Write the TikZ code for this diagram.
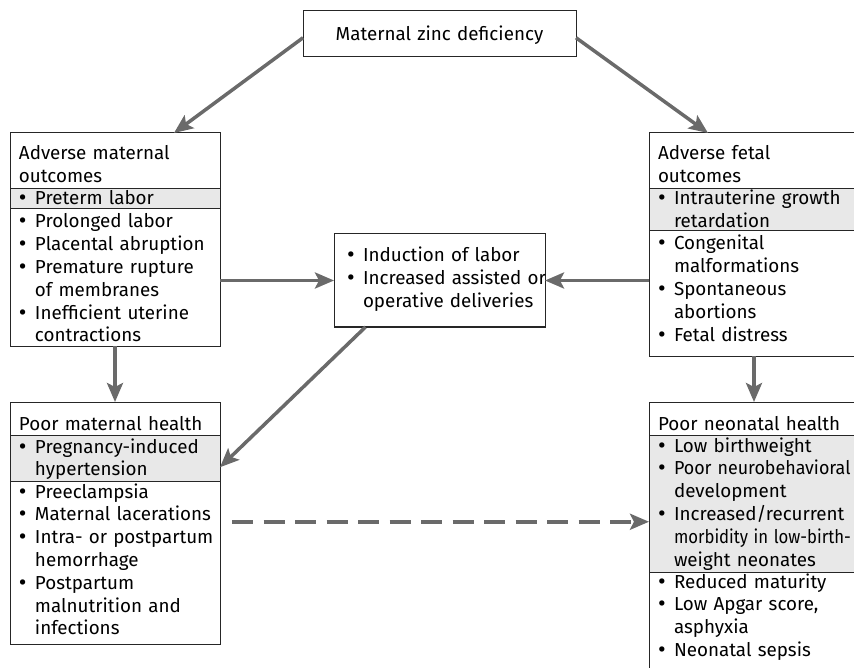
\documentclass[tikz,border=0pt]{standalone}
\usepackage{fontspec}
\setmainfont{Fira Sans}
\usetikzlibrary{positioning,arrows.meta}
\definecolor{arrgray}{HTML}{6A6A6A}
\definecolor{bandgray}{HTML}{E8E8E8}
\newcommand{\bu}[1]{\mbox{\makebox[16pt][l]{\raisebox{-1pt}{\scalebox{1.25}{\textbullet}}}#1}}
\newcommand{\cn}[1]{\mbox{\hspace*{16pt}#1}}
\tikzset{
	box/.style={draw=black!85, line width=1pt, inner xsep=9pt, inner ysep=0pt, outer sep=0pt,
		text width=192pt, align=left, anchor=north west, font=\fontsize{18.8pt}{22.8pt}\selectfont},
	band/.style={box, fill=bandgray},
	sec/.style 2 args={text height=#1pt, text depth=#2pt},
	arr/.style={draw=arrgray, line width=3.5pt, -{Stealth[length=19pt,width=16pt,inset=4pt]}}
}
\begin{document}
\begin{tikzpicture}[x=1pt,y=-1pt]
\useasboundingbox (0,0) rectangle (854,668);
\clip (0,0) rectangle (854,668);
	\node[box, align=center, text width=255pt, sec={30}{15.5}] (zinc) at (303,11) {Maternal zinc deficiency};

	\node[box, sec={27}{28.5}] (moh) at (10,133) {Adverse~maternal\\outcomes};
	\node[band, sec={16.5}{4}, below=0pt of moh.south west, anchor=north west] (mob) {\bu{Preterm labor}};
	\node[box, sec={19}{118}, below=0pt of mob.south west, anchor=north west] (mol) {\bu{Prolonged labor}\\\bu{Placental abruption}\\\bu{Premature rupture}\\\cn{of membranes}\\\bu{Inefficient uterine}\\\cn{contractions}};

	\node[box, sec={27}{28.5}] (foh) at (649,133) {Adverse~fetal\\outcomes};
	\node[band, sec={16.5}{26}, below=0pt of foh.south west, anchor=north west] (fob) {\bu{Intrauterine growth}\\\cn{retardation}};
	\node[box, sec={19}{106}, below=0pt of fob.south west, anchor=north west] (fol) {\bu{Congenital}\\\cn{malformations}\\\bu{Spontaneous}\\\cn{abortions}\\\bu{Fetal distress}};

	\node[box, inner xsep=13pt, text width=185pt, sec={27.7}{65.3}] (ind) at (334,234) {\bu{Induction of labor}\\\bu{Increased assisted or}\\\cn{operative deliveries}};

	\node[box, sec={28.5}{5}] (mhh) at (10,402) {Poor~maternal~health};
	\node[band, sec={17.5}{28}, below=0pt of mhh.south west, anchor=north west] (mhb) {\bu{Pregnancy-induced}\\\cn{hypertension}};
	\node[box, sec={17}{146}, below=0pt of mhb.south west, anchor=north west] (mhl) {\bu{Preeclampsia}\\\bu{Maternal lacerations}\\\bu{Intra- or postpartum}\\\cn{hemorrhage}\\\bu{Postpartum}\\\cn{malnutrition and}\\\cn{infections}};

	\node[box, sec={28.5}{5}] (nhh) at (649,402) {Poor~neonatal~health};
	\node[band, sec={16.5}{120}, below=0pt of nhh.south west, anchor=north west] (nhb) {\bu{Low birthweight}\\\bu{\scalebox{0.95}[1]{Poor neurobehavioral}}\\\cn{development}\\\bu{Increased/recurrent}\\\cn{\scalebox{0.89}[1]{morbidity in low-birth-}}\\\cn{weight neonates}};
	\node[box, sec={16}{100}, below=0pt of nhb.south west, anchor=north west] (nhl) {\bu{Reduced maturity}\\\bu{Low Apgar score,}\\\cn{asphyxia}\\\bu{Neonatal sepsis}};

	\draw[arr] ([yshift=-4pt]zinc.west) -- ([xshift=59pt]moh.north);
	\draw[arr] ([yshift=-4pt]zinc.east) -- ([xshift=-46pt]foh.north);
	\draw[arr] (ind.west -| mol.east) -- (ind.west);
	\draw[arr] (ind.east -| fol.west) -- (ind.east);
	\draw[arr] ([xshift=-74pt]ind.south) -- ([yshift=-9pt]mhb.east);
	\draw[arr] (mol.south) -- (mhh.north);
	\draw[arr] (fol.south) -- (nhh.north);
	\coordinate (dtip) at ([yshift=-18pt]nhb.west);
	\coordinate (dstart) at (dtip -| mhb.east);
	\draw[arr, dash pattern=on 21pt off 10.5pt, shorten <=12pt] (dstart) -- (dtip);
\end{tikzpicture}
\end{document}
